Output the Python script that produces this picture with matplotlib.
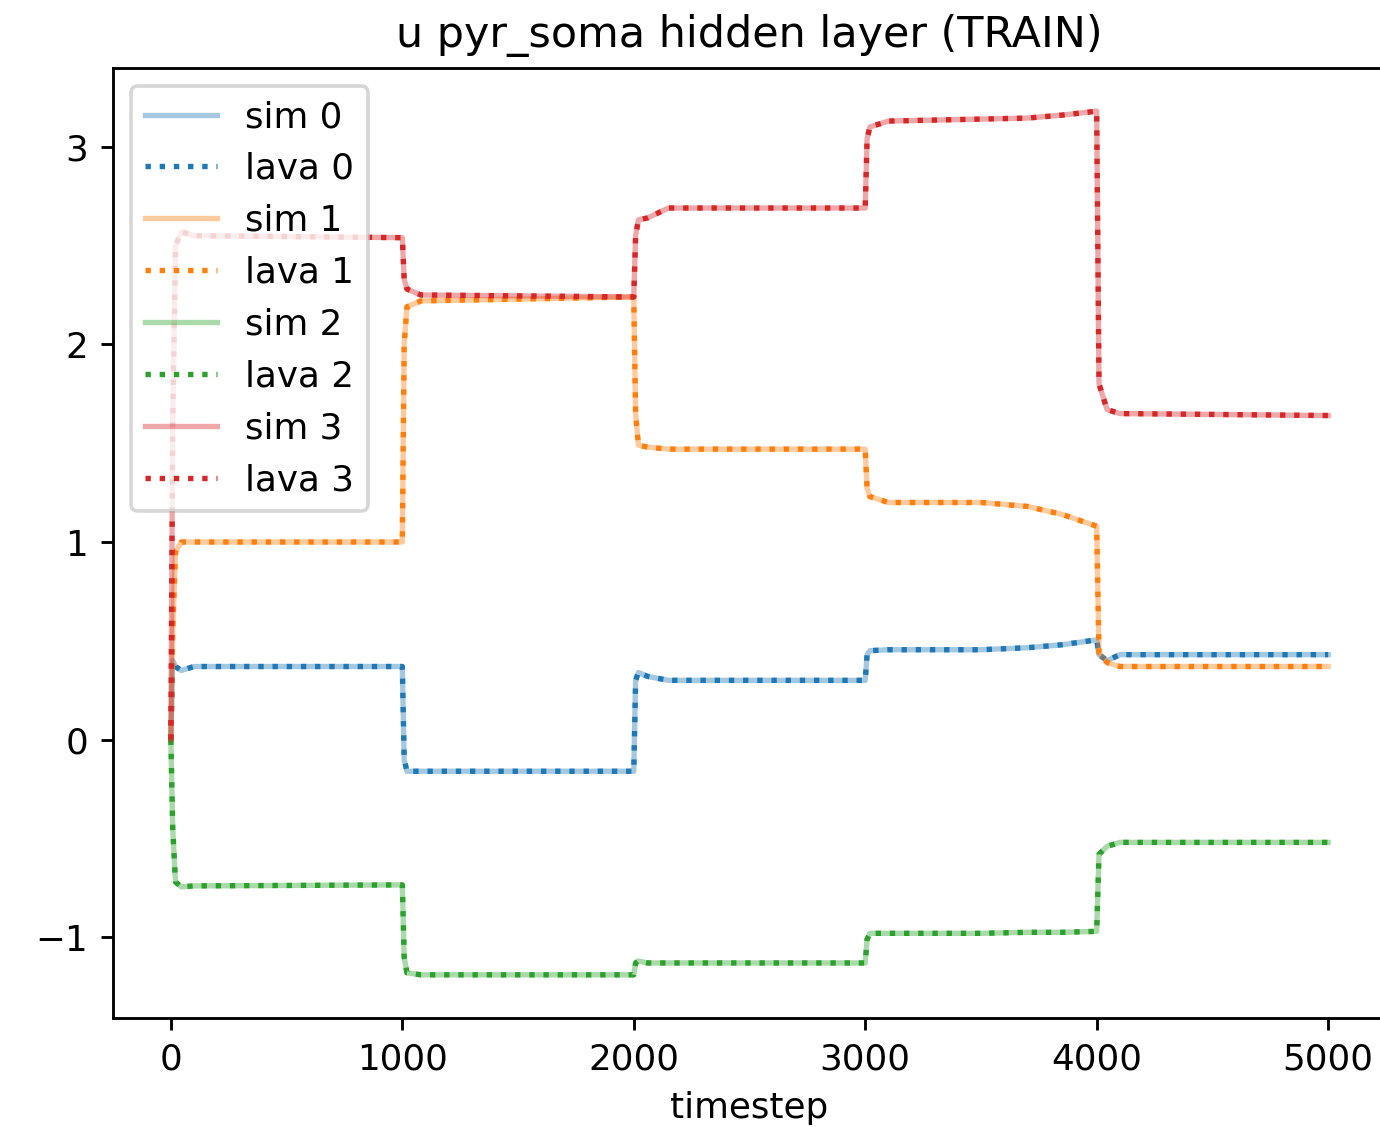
import matplotlib
matplotlib.use("Agg")
import matplotlib.pyplot as plt

timesteps = [0, 8, 20, 45, 100, 1000, 1008, 1020, 1080, 2000, 2008, 2020, 2060,
             2150, 3000, 3008, 3020, 3100, 3500, 3700, 3850, 4000, 4010, 4045,
             4100, 5000]

# u of the four hidden pyramidal somas
u_0 = [0.0, 0.40, 0.37, 0.35, 0.37, 0.37, -0.10, -0.16, -0.16, -0.16, 0.30, 0.34,
       0.32, 0.30, 0.30, 0.43, 0.45, 0.455, 0.455, 0.465, 0.48, 0.505, 0.43, 0.40,
       0.43, 0.43]
u_1 = [0.0, 0.55, 0.95, 1.0, 1.0, 1.0, 2.0, 2.19, 2.22, 2.24, 1.65, 1.49, 1.48,
       1.47, 1.47, 1.27, 1.23, 1.20, 1.20, 1.18, 1.14, 1.08, 0.44, 0.39, 0.37,
       0.37]
u_2 = [0.0, -0.45, -0.72, -0.745, -0.74, -0.735, -1.10, -1.18, -1.19, -1.19,
       -1.13, -1.12, -1.13, -1.13, -1.13, -1.01, -0.98, -0.98, -0.98, -0.975,
       -0.975, -0.97, -0.58, -0.54, -0.52, -0.52]
u_3 = [0.0, 1.60, 2.50, 2.57, 2.55, 2.54, 2.33, 2.28, 2.25, 2.24, 2.55, 2.63,
       2.64, 2.69, 2.69, 3.04, 3.10, 3.13, 3.14, 3.145, 3.16, 3.18, 1.80, 1.67,
       1.65, 1.64]

sim_u = [u_0, u_1, u_2, u_3]
lava_u = [u_0, u_1, u_2, u_3]
colors = ["tab:blue", "tab:orange", "tab:green", "tab:red"]

fig = plt.figure(figsize=(1380 / 257, 1127 / 257), dpi=257)
ax = fig.add_axes([113 / 1380, 109 / 1127, 1273 / 1380, 950 / 1127])

for i in range(4):
    ax.plot(timesteps, sim_u[i], color=colors[i], alpha=0.4, label=f"sim {i}")
    ax.plot(timesteps, lava_u[i], color=colors[i], linestyle=":", label=f"lava {i}")

ax.set_title("u pyr_soma hidden layer (TRAIN)")
ax.set_xlabel("timestep")
ax.legend(loc="upper left")
# the reference picture is cut off just before the right spine
ax.spines["right"].set_visible(False)

plt.savefig("out.png", dpi=257)
